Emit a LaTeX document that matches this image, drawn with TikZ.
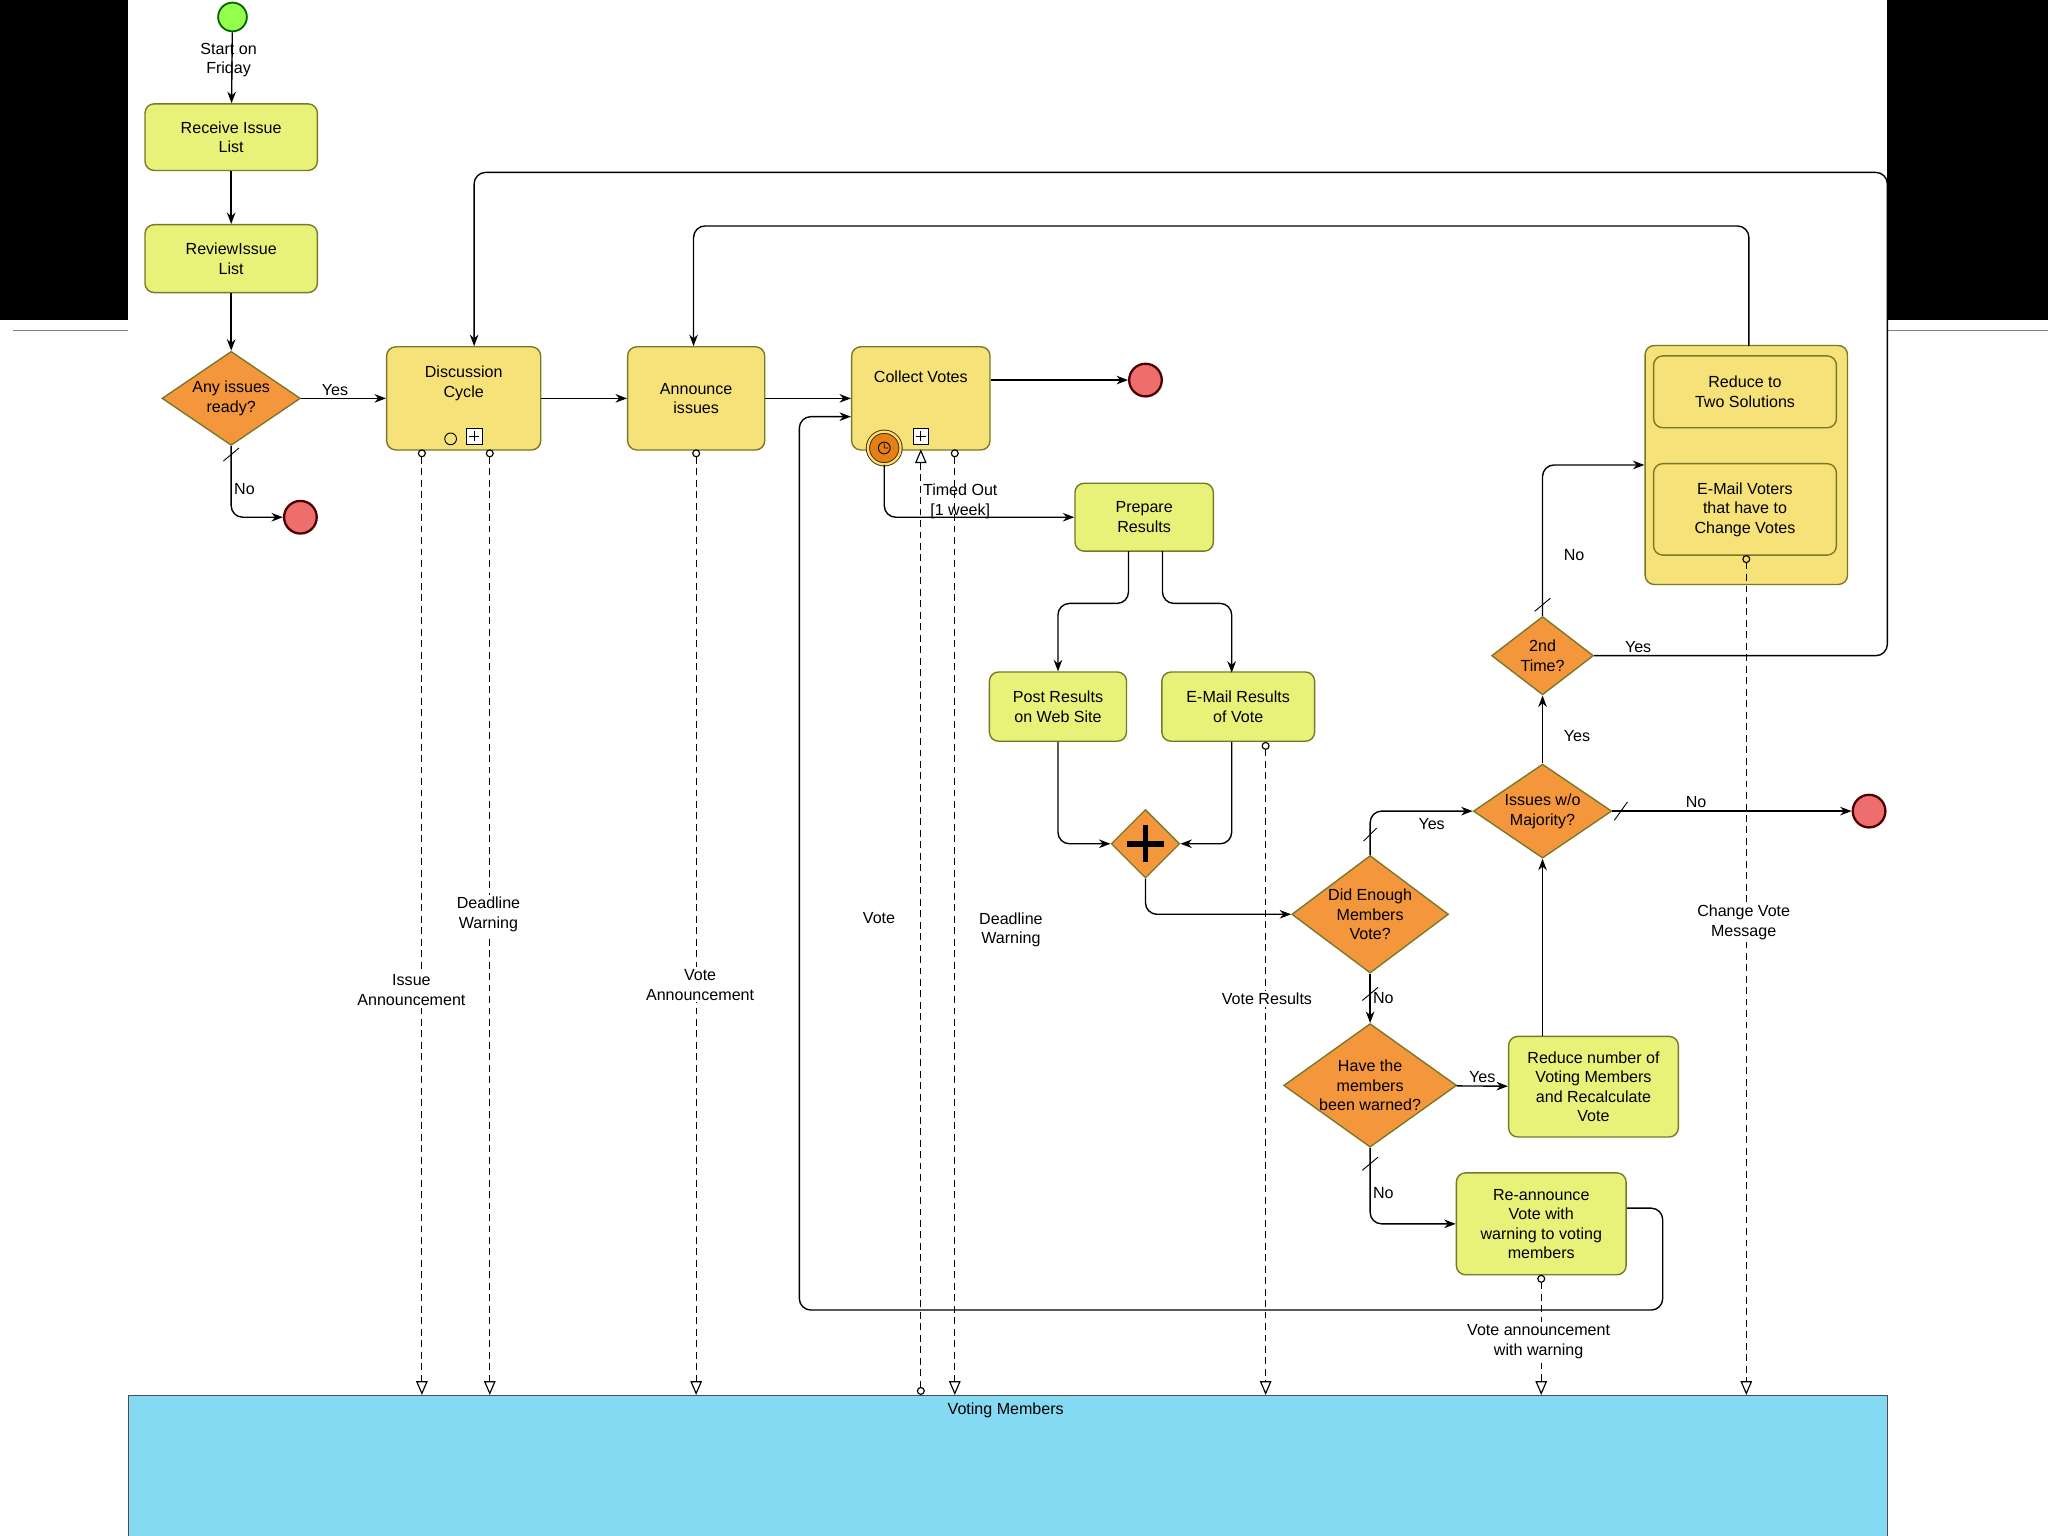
\documentclass[tikz,border=0pt]{standalone}
\usepackage{fontspec}
\setmainfont{Liberation Sans}
\usetikzlibrary{arrows.meta,shapes.geometric}
\definecolor{taskc}{RGB}{232,242,120}
\definecolor{subc}{RGB}{246,226,120}
\definecolor{gwc}{RGB}{244,150,60}
\definecolor{endc}{RGB}{238,110,110}
\definecolor{poolc}{RGB}{132,218,242}
\definecolor{edgec}{RGB}{120,120,40}
\begin{document}
\begin{tikzpicture}[x=0.02cm,y=-0.02cm,
  font=\fontsize{7}{8.5}\selectfont,
  task/.style={draw=edgec,fill=taskc,rounded corners=4pt,align=center,inner sep=1pt,line width=0.6pt},
  sub/.style={task,fill=subc},
  gw/.style={diamond,draw=edgec,fill=gwc,align=center,inner sep=0pt,aspect=1.4,line width=0.6pt},
  endev/.style={circle,draw=black!70!red,fill=endc,line width=1pt,minimum size=0.5cm,inner sep=0},
  flow/.style={-{Stealth[length=5pt]},line width=0.6pt,rounded corners=5pt},
  msg/.style={densely dashed,line width=0.5pt,{Circle[open,length=3.5pt]}-{Triangle[open,length=6pt,width=5pt]}},
  lab/.style={align=center,inner sep=1pt}]
\useasboundingbox (0,0) rectangle (1568,1176);
\fill[white] (0,0) rectangle (1568,1176);
\fill[black] (0,0) rectangle (98,245);
\fill[black] (1445,0) rectangle (1568,245);
\draw[gray,line width=0.8pt] (10,253) -- (98,253) (1445,253) -- (1568,253);
% pool
\node[draw=black!70,fill=poolc,minimum width=26.94cm,minimum height=2.16cm,anchor=north west,inner sep=0] (pool) at (98,1068) {};
\node[lab] (poollab) at (770,1080) {Voting Members};
% nodes
\node[circle,draw=green!40!black,fill=green!60!yellow!70,minimum size=0.44cm,inner sep=0,line width=0.8pt] (start) at (178,13) {};
\node[lab] (startlab) at (175,46) {Start on\\Friday};
\node[task,minimum width=2.64cm,minimum height=1.02cm] (recv) at (177,105) {Receive Issue\\List};
\node[task,minimum width=2.64cm,minimum height=1.04cm] (rev) at (177,198) {ReviewIssue\\List};
\node[gw,minimum width=2.12cm,minimum height=1.44cm] (any) at (177,305) {Any issues\\ready?};
\node[endev] (end1) at (230,396) {};
\node[sub,minimum width=2.36cm,minimum height=1.58cm] (disc) at (355,305) {Discussion\\Cycle\\[6pt]};
\node[sub,minimum width=2.1cm,minimum height=1.58cm] (ann) at (533,305) {Announce\\issues};
\node[sub,minimum width=2.12cm,minimum height=1.58cm] (coll) at (705,305) {Collect Votes\\[10pt]};
\node[endev] (end2) at (877,291) {};
\node[circle,draw=black!70!orange,fill=orange!60!brown,minimum size=0.5cm,inner sep=0,double=subc,double distance=1pt] (timer) at (677,343) {};
\draw (timer.center) circle (4.5) (timer.center) -- ++(0,-3.5) (timer.center) -- ++(3,0);
\draw[fill=white] (699,328) rectangle (711,340) (705,330) -- (705,338) (701,334) -- (709,334);
\draw[fill=white] (357,328) rectangle (369,340) (363,330) -- (363,338) (359,334) -- (367,334);
\draw (345,336) circle (4.5);
\node[task,minimum width=2.12cm,minimum height=1.04cm] (prep) at (876,396) {Prepare\\Results};
\node[task,minimum width=2.1cm,minimum height=1.06cm] (post) at (810,541) {Post Results\\on Web Site};
\node[task,minimum width=2.34cm,minimum height=1.06cm] (email) at (948,541) {E-Mail Results\\of Vote};
\node[diamond,draw=edgec,fill=gwc,minimum size=1.05cm,inner sep=0,line width=0.6pt] (par) at (877,646) {};
\draw[line width=2.5pt] (877,632) -- (877,660) (863,646) -- (891,646);
\node[gw,minimum width=2.4cm,minimum height=1.8cm] (enough) at (1049,700) {Did Enough\\Members\\Vote?};
\node[gw,minimum width=2.12cm,minimum height=1.44cm] (maj) at (1181,621) {Issues w/o\\Majority?};
\node[endev] (end3) at (1431,621) {};
\node[gw,minimum width=1.56cm,minimum height=1.2cm] (second) at (1181,502) {2nd\\Time?};
\node[sub,minimum width=3.1cm,minimum height=3.66cm] (cont) at (1337,356) {};
\node[sub,minimum width=2.8cm,minimum height=1.1cm] (red2) at (1336,300) {Reduce to\\Two Solutions};
\node[sub,minimum width=2.8cm,minimum height=1.4cm] (emv) at (1336,390) {E-Mail Voters\\that have to\\Change Votes};
\node[gw,minimum width=2.32cm,minimum height=1.8cm] (warned) at (1049,831) {Have the\\members\\been warned?};
\node[task,minimum width=2.6cm,minimum height=1.54cm] (rednum) at (1220,832) {Reduce number of\\Voting Members\\and Recalculate\\Vote};
\node[task,minimum width=2.6cm,minimum height=1.56cm] (reann) at (1180,937) {Re-announce\\Vote with\\warning to voting\\members};
% sequence flows
\draw[flow] (start) -- (recv);
\draw[flow] (recv) -- (rev);
\draw[flow] (rev) -- (any);
\draw[flow] (any) -- node[lab,above,pos=0.4] {Yes} (disc);
\draw[flow] (any.south) |- node[lab,pos=0.3,right] {No} (end1);
\draw (171,353) -- (183,343);
\draw[flow] (disc) -- (ann);
\draw[flow] (ann) -- (coll);
\draw[flow] (coll.east|-end2) -- (end2);
\draw[flow] (timer.south) |- node[lab,pos=0.7,above=-2pt] {Timed Out\\{}[1 week]} (prep);
\draw[flow] (864,422) |- (810,462) -- (post);
\draw[flow] (890,422) |- (943,462) -- (943,515);
\draw[flow] (post.south) |- (par);
\draw[flow] (943,568) |- (par);
\draw[flow] (par.south) |- (enough);
\draw[flow] (enough.north) |- node[lab,pos=0.8,below=2pt] {Yes} (maj);
\draw (1044,644) -- (1054,634);
\draw[flow] (enough) -- node[lab,right] {No} (warned);
\draw (1043,766) -- (1055,756);
\draw[flow] (maj) -- node[lab,pos=0.35,above] {No} (end3);
\draw (1236,628) -- (1246,614);
\draw[flow] (maj) -- node[lab,pos=0.4,right=8pt] {Yes} (second);
\draw[flow] (second.north) |- node[lab,pos=0.2,right=8pt] {No} (cont.west|-1181,356);
\draw (1175,468) -- (1187,458);
\draw[flow] (second.east) -- node[lab,pos=0.15,above] {Yes} (1445,502) -- (1445,132) -- (363,132) -- (363,265);
\draw[flow] (1339,265) -- (1339,173) -- (531,173) -- (531,265);
\draw[flow] (warned) -- node[lab,above] {Yes} (rednum);
\draw[flow] (rednum.north-|maj) -- (maj);
\draw[flow] (warned.south) |- node[lab,pos=0.3,right] {No} (reann);
\draw (1043,896) -- (1055,886);
\draw[flow] (reann.east|-1180,925) -- (1273,925) -- (1273,1003) -- (612,1003) -- (612,319) -- (coll.west|-612,319);
% message flows
\draw[msg] (323,344) -- (323,1068);
\node[lab,fill=white] (m1) at (315,758) {Issue\\Announcement};
\draw[msg] (375,344) -- (375,1068);
\node[lab,fill=white] (m2) at (374,700) {Deadline\\Warning};
\draw[msg] (533,344) -- (533,1068);
\node[lab,fill=white] (m3) at (536,754) {Vote\\Announcement};
\draw[msg] (705,1068) -- (705,344);
\node[lab] (m4) at (673,703) {Vote};
\draw[msg] (731,344) -- (731,1068);
\node[lab] (m5) at (774,712) {Deadline\\Warning};
\draw[msg] (969,568) -- (969,1068);
\node[lab,fill=white] (m6) at (970,765) {Vote Results};
\draw[msg] (1180,976) -- (1180,1068);
\node[lab,fill=white] (m7) at (1178,1027) {Vote announcement\\with warning};
\draw[msg] (1337,425) -- (1337,1068);
\node[lab,fill=white] (m8) at (1335,706) {Change Vote\\Message};
\end{tikzpicture}
\end{document}
